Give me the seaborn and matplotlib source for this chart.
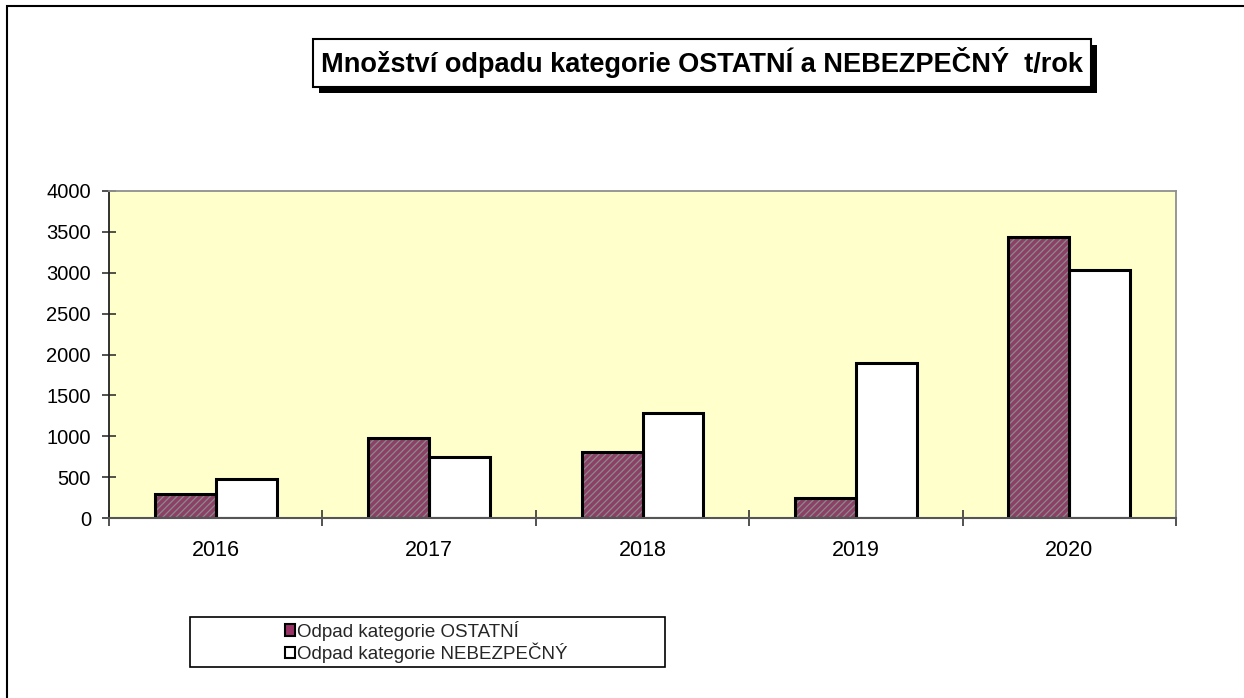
import matplotlib
matplotlib.use("Agg")
import matplotlib.pyplot as plt
import matplotlib.patheffects as pe
import seaborn as sns
import pandas as pd
import numpy as np
from matplotlib.patches import Rectangle, Patch
from matplotlib.ticker import FixedLocator

years = ["2016", "2017", "2018", "2019", "2020"]
series_names = ["Odpad kategorie OSTATNÍ", "Odpad kategorie NEBEZPEČNÝ"]
ostatni = [290, 980, 810, 240, 3440]
nebezpecny = [480, 750, 1280, 1900, 3030]
yticks = [0, 500, 1000, 1500, 2000, 2500, 3000, 3500, 4000]
title = "Množství odpadu kategorie OSTATNÍ a NEBEZPEČNÝ  t/rok"

df = pd.DataFrame({
    "year": years * 2,
    "series": [series_names[0]] * len(years) + [series_names[1]] * len(years),
    "value": ostatni + nebezpecny,
})

sns.set_theme(style="white")
plt.rcParams["font.family"] = ["Liberation Sans", "DejaVu Sans"]
plt.rcParams["hatch.linewidth"] = 0.9

purple = "#993366"
W, H = 1244, 698
fig = plt.figure(figsize=(W / 100, H / 100), dpi=100)
fig.patch.set_facecolor("white")

# outer chart border (top and left visible)
fig.add_artist(Rectangle((7 / W, -0.1), 1.2, 1 - 6 / H + 0.1, transform=fig.transFigure,
                         fill=False, edgecolor="black", linewidth=1.5, clip_on=False))

ax = fig.add_axes([109 / W, 1 - 518 / H, (1176 - 109) / W, (518 - 191) / H])
ax.set_facecolor("#FFFFCC")

# filled bars with hatch
sns.barplot(data=df, x="year", y="value", hue="series", hue_order=series_names,
            palette=[purple, "white"], width=0.57, gap=0, edgecolor="#8a8a8a",
            linewidth=0, legend=False, ax=ax, order=years)
for p in ax.patches[:len(years)]:
    p.set_hatch("/////")
# outlines
sns.barplot(data=df, x="year", y="value", hue="series", hue_order=series_names,
            palette=["black", "black"], width=0.57, gap=0, fill=False,
            linewidth=2.2, legend=False, ax=ax, order=years)

ax.set_xlim(-0.5, len(years) - 0.5)
ax.set_ylim(0, 4000)
ax.set_yticks(yticks)
ax.set_yticklabels([str(v) for v in yticks])
ax.set_xlabel("")
ax.set_ylabel("")
ax.xaxis.set_minor_locator(FixedLocator(np.arange(-0.5, len(years), 1.0)))
ax.tick_params(axis="x", which="major", length=0, pad=16, labelsize=15.5, colors="black")
ax.tick_params(axis="x", which="minor", length=11, width=1.2, direction="inout",
               bottom=True, color="#333333")
ax.tick_params(axis="y", which="major", length=10, width=1.2, direction="inout",
               pad=8, labelsize=14.5, left=True, color="#333333", labelcolor="black")

for side in ["top", "right"]:
    ax.spines[side].set_visible(True)
    ax.spines[side].set_color("#909090")
    ax.spines[side].set_linewidth(1.3)
ax.spines["left"].set_color("#222222")
ax.spines["left"].set_linewidth(1.3)
ax.spines["bottom"].set_color("#555555")
ax.spines["bottom"].set_linewidth(1.5)

# title with shadow box
tx, ty = 702 / W, 1 - 63 / H
t = fig.text(tx, ty, title, ha="center", va="center", fontsize=19.5, fontweight="bold",
             color="black",
             bbox=dict(boxstyle="square,pad=0.3", facecolor="white", edgecolor="black",
                       linewidth=1.5))
t.get_bbox_patch().set_path_effects([
    pe.SimplePatchShadow(offset=(4.3, -4.3), shadow_rgbFace="black", alpha=1.0),
    pe.Normal(),
])

# legend box
fig.add_artist(Rectangle((190 / W, 1 - 667 / H), 475 / W, 50 / H, transform=fig.transFigure,
                         fill=True, facecolor="white", edgecolor="black", linewidth=1.2))
handles = [Patch(facecolor=purple, edgecolor="black", linewidth=1.5),
           Patch(facecolor="white", edgecolor="black", linewidth=1.5)]
fig.legend(handles, series_names, loc="center left", bbox_to_anchor=(285 / W, 1 - 642 / H),
           frameon=False, fontsize=13.5, handlelength=0.55, handleheight=0.55,
           handletextpad=0.1, labelspacing=0.12, borderpad=0, borderaxespad=0)

fig.savefig("out.png", dpi=100, facecolor="white")
